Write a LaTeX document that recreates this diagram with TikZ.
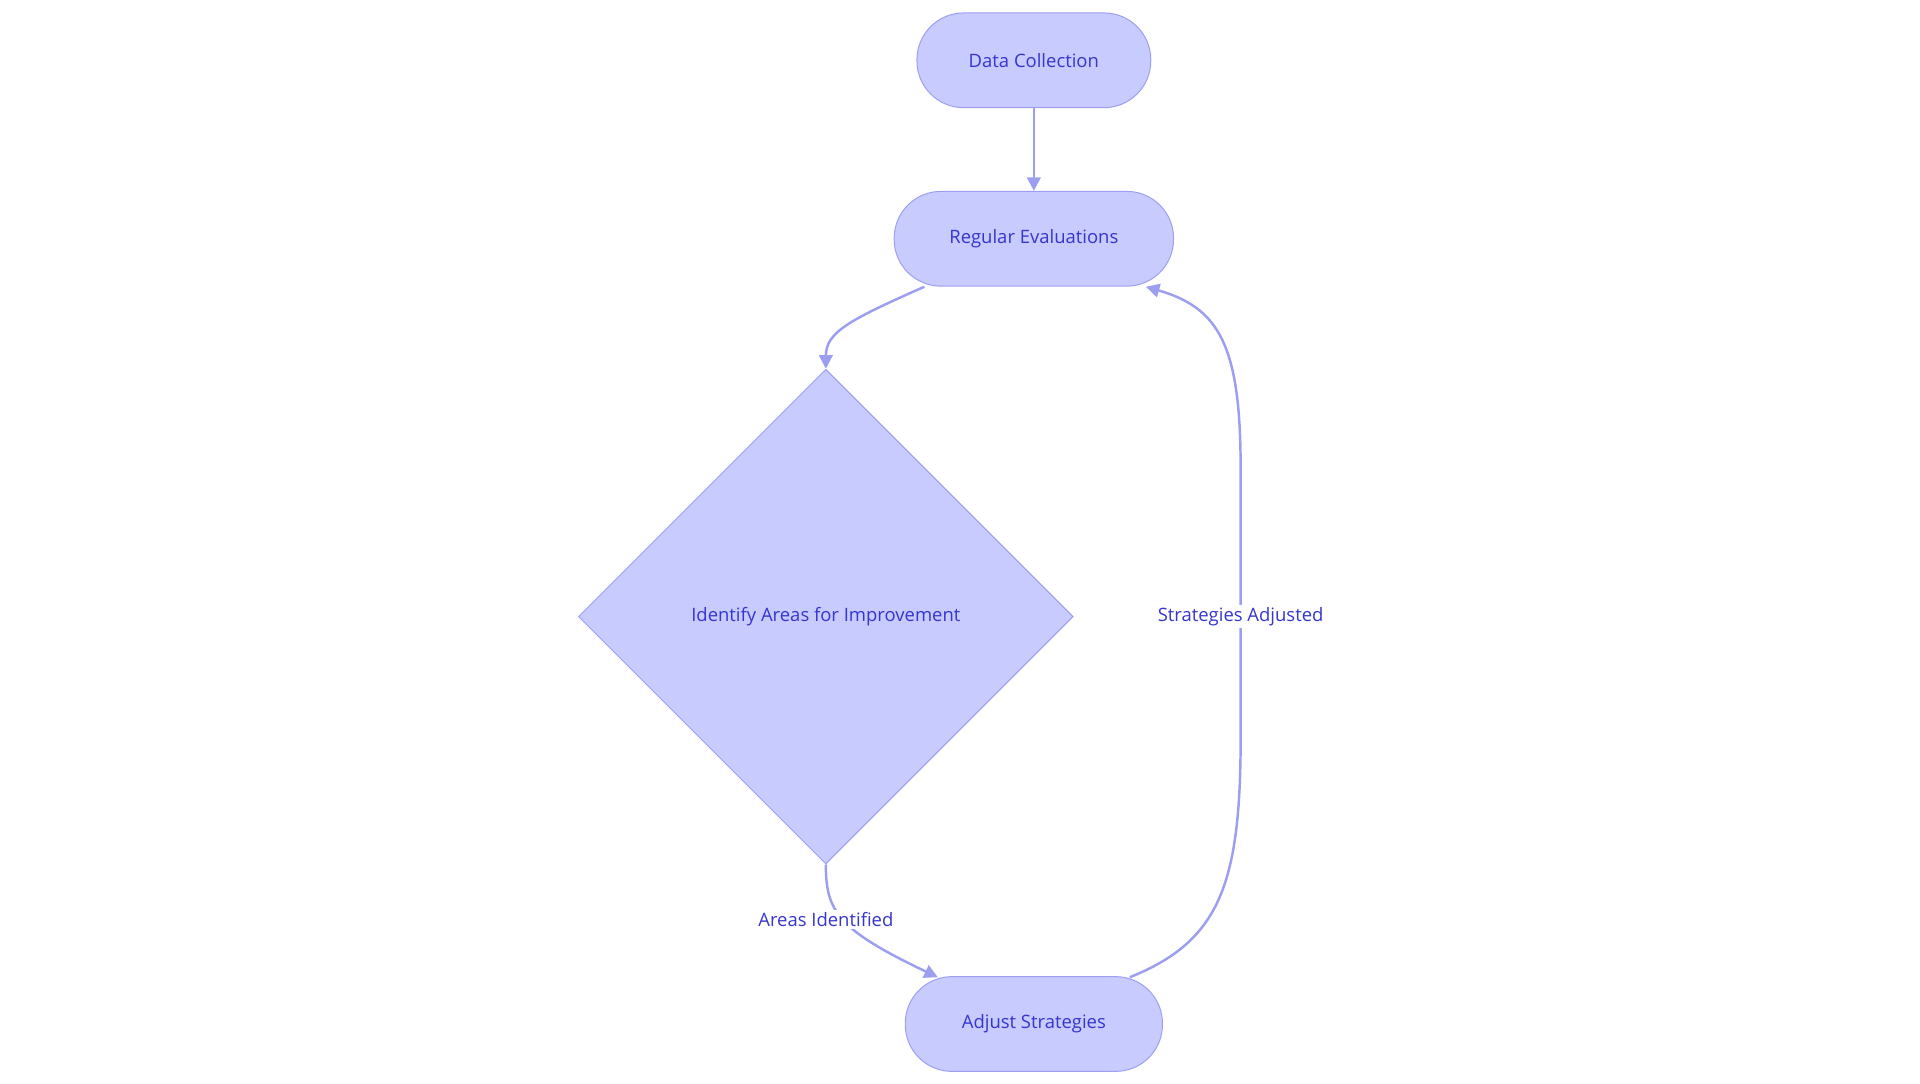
\documentclass[tikz,border=0pt]{standalone}
\usepackage{fontspec}
\setmainfont{Open Sans}
\usetikzlibrary{shapes.geometric,arrows.meta}
\definecolor{fillc}{HTML}{C8CBFE}
\definecolor{linec}{HTML}{9C9FF0}
\definecolor{textc}{HTML}{3535CF}
\tikzset{
  x=1pt,y=-1pt,
  rnode/.style={draw=linec,fill=fillc,text=textc,rounded corners=38pt,minimum height=77pt,font=\fontsize{15}{18}\selectfont,line width=0.8pt},
  dnode/.style={draw=linec,fill=fillc,text=textc,diamond,minimum width=402pt,minimum height=402pt,inner sep=0pt,aspect=1,font=\fontsize{15}{18}\selectfont,line width=0.8pt},
  conn/.style={draw=linec,line width=2pt,-{Triangle[length=11pt,width=11pt]}},
  lbl/.style={fill=white,text=textc,font=\fontsize{15}{18}\selectfont,inner sep=2pt}
}
\begin{document}
\begin{tikzpicture}
\useasboundingbox (0,0) rectangle (1560,880);
\node[rnode,minimum width=190pt] (dc) at (840,49) {Data Collection};
\node[rnode,minimum width=227pt] (re) at (840,194) {Regular Evaluations};
\node[dnode] (ia) at (671,501) {Identify Areas for Improvement};
\node[rnode,minimum width=209pt] (as) at (840,832) {Adjust Strategies};
\coordinate (reb) at (751,233);
\coordinate (asl) at (762,794);
\coordinate (asr) at (918,794);
\coordinate (rer) at (931,233);
\draw[conn] (dc) -- (re);
\draw[conn] (reb) .. controls (690,260) and (671,270) .. (ia.north);
\draw[conn] (ia.south) .. controls (671,740) and (680,755) .. (asl);
\draw[conn] (asr) .. controls (990,765) and (1008,720) .. (1008,600) -- (1008,380) .. controls (1008,280) and (990,250) .. (rer);
\node[lbl] (l1) at (671,747) {Areas Identified};
\node[lbl] (l2) at (1008,501) {Strategies Adjusted};
\end{tikzpicture}
\end{document}
